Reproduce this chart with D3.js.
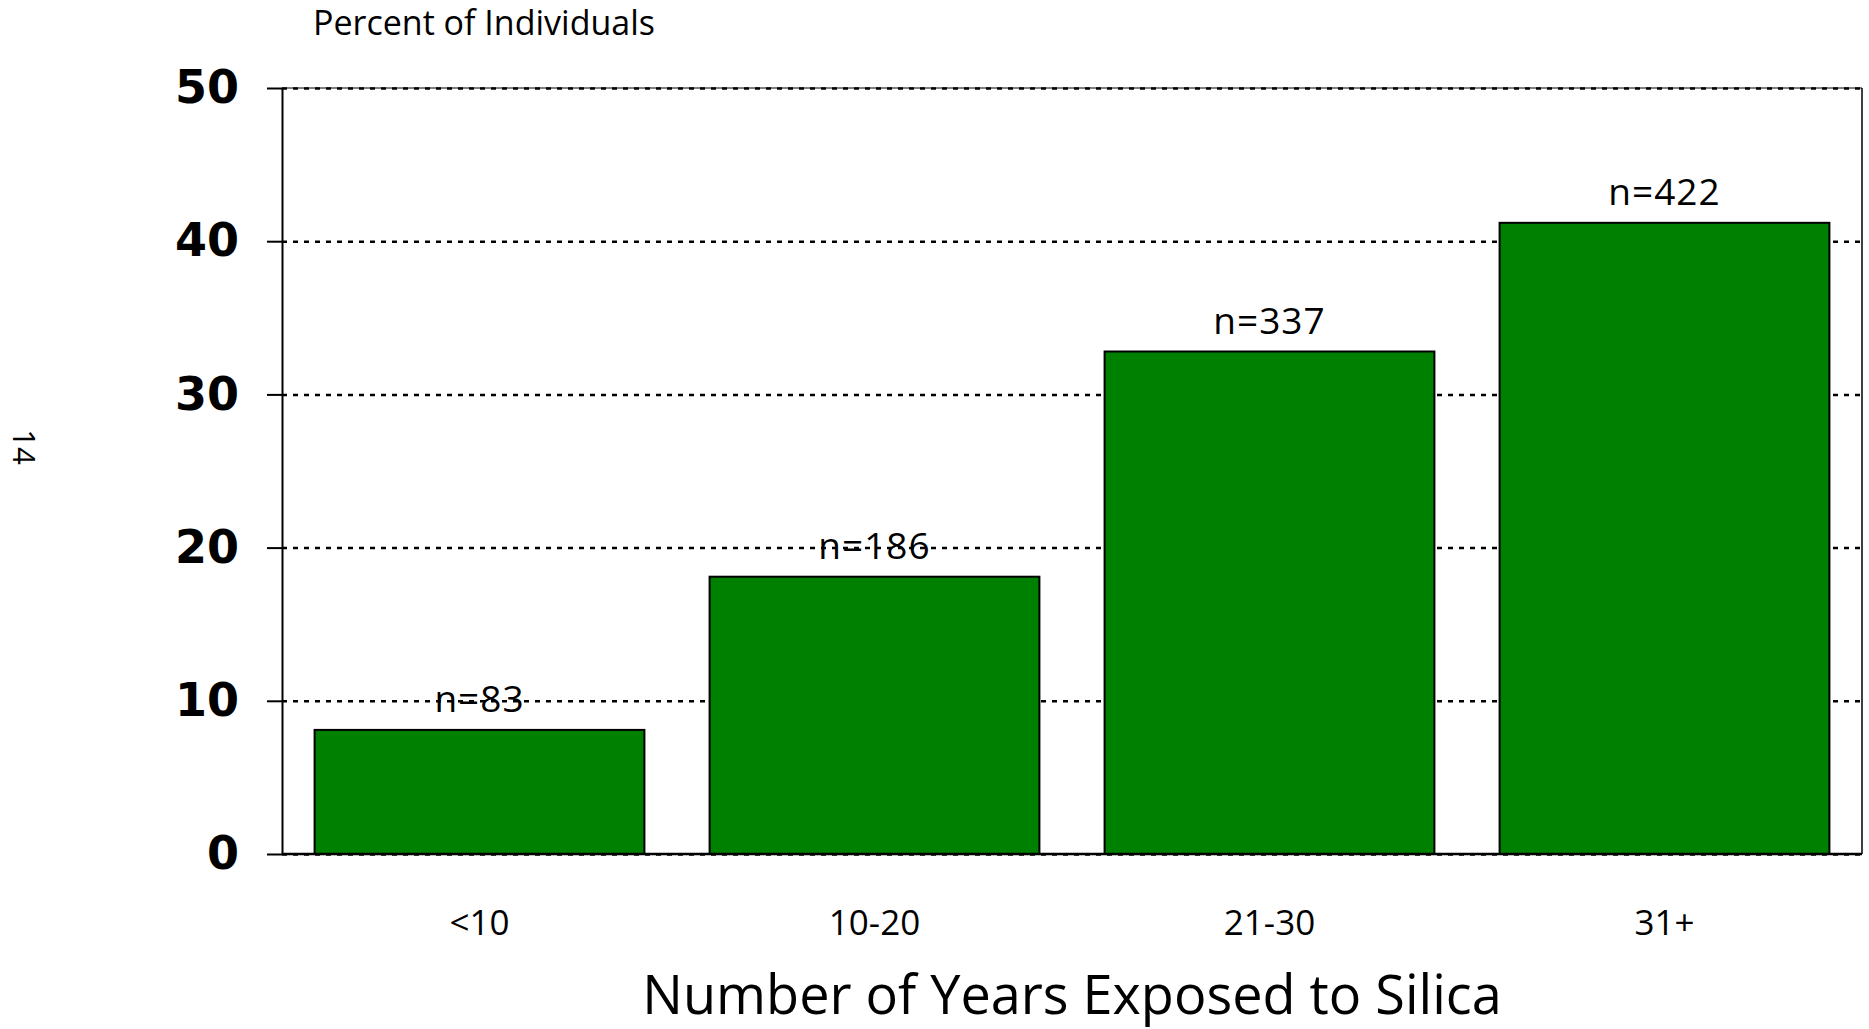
<!DOCTYPE html>
<meta charset="utf-8">
<html>
  <style>
    body, html{ margin: 0; background: #fff;}
    .bar{ fill: #008000; stroke: #000; stroke-width: 2; }
    .grid line{ stroke: #000; stroke-width: 2.5; stroke-dasharray: 5,6; }
    .grid path{ display: none; }
    .yaxis text{ font-family: "DejaVu Sans"; font-weight: bold; font-size: 46px; }
    .yaxis line, .yaxis path{ stroke: #000; stroke-width: 2; }
    .xaxis text{ font-family: "Open Sans"; font-size: 35px; }
    .xaxis path{ display: none; }
    .nlabel{ font-family: "Open Sans"; font-size: 37px; font-weight: 500; text-anchor: middle; letter-spacing: 1px; }
  </style>
  <body>
    <svg></svg>
    <script src="https://cdn.jsdelivr.net/npm/d3@7"></script>
    <script>
var categories = ['<10', '10-20', '21-30', '31+']
  , percents = [8.1, 18.1, 32.8, 41.2]
  , counts = [83, 186, 337, 422]
  , yTicks = [0, 10, 20, 30, 40, 50]

var w = 1869, h = 1029
  , mLeft = 282, mRight = 1862, mTop = 88, mBottom = 854
  , svg = d3.select('svg').attr('width', w).attr('height', h)

var x = d3.scaleBand().domain(categories).range([mLeft, mRight])
    .paddingInner(0.165).paddingOuter(0.0825)
  , y = d3.scaleLinear().domain([0, 50]).range([mBottom, mTop])

// dotted grid lines
svg.append('g').attr('class', 'grid')
  .attr('transform', 'translate(' + mLeft + ',0)')
  .call(d3.axisRight(y).tickValues(yTicks).tickSize(mRight - mLeft).tickFormat(''))

// frame: top + right border
svg.append('line').attr('x1', mLeft).attr('x2', mRight).attr('y1', mTop).attr('y2', mTop)
  .attr('stroke', '#000').attr('stroke-width', 1)
svg.append('line').attr('x1', mRight).attr('x2', mRight).attr('y1', mTop).attr('y2', mBottom)
  .attr('stroke', '#000').attr('stroke-width', 1.5)

// bars
svg.selectAll('.bar').data(percents).enter().append('rect')
  .attr('class', 'bar')
  .attr('x', function(d, i){ return x(categories[i]) })
  .attr('width', x.bandwidth())
  .attr('y', function(d){ return y(d) })
  .attr('height', function(d){ return y(0) - y(d) })

// count labels
svg.selectAll('.nlabel').data(counts).enter().append('text')
  .attr('class', 'nlabel')
  .attr('x', function(d, i){ return x(categories[i]) + x.bandwidth() / 2 })
  .attr('y', function(d, i){ return y(percents[i]) - 18 })
  .text(function(d){ return 'n=' + d })

// baseline
svg.append('line').attr('x1', mLeft).attr('x2', mRight).attr('y1', mBottom).attr('y2', mBottom)
  .attr('stroke', '#000').attr('stroke-width', 2.5)

// y axis
svg.append('g').attr('class', 'yaxis')
  .attr('transform', 'translate(' + mLeft + ',0)')
  .call(d3.axisLeft(y).tickValues(yTicks).tickSize(15).tickPadding(28).tickSizeOuter(0))
  .select('.domain').attr('stroke-width', 3)

// x axis labels
svg.append('g').attr('class', 'xaxis')
  .attr('transform', 'translate(0,' + mBottom + ')')
  .call(d3.axisBottom(x).tickSize(0).tickPadding(56))

// titles
svg.append('text').attr('x', 313).attr('y', 35)
  .style('font-family', 'Open Sans').style('font-size', '34px')
  .text('Percent of Individuals')

svg.append('text').attr('x', (mLeft + mRight) / 2).attr('y', 1014)
  .attr('text-anchor', 'middle')
  .style('font-family', 'Open Sans').style('font-size', '54px')
  .text('Number of Years Exposed to Silica')

svg.append('text').attr('transform', 'translate(13,447) rotate(90)')
  .attr('text-anchor', 'middle')
  .style('font-family', 'Open Sans').style('font-size', '31px')
  .text('14')
    </script>
  </body>
</html>
